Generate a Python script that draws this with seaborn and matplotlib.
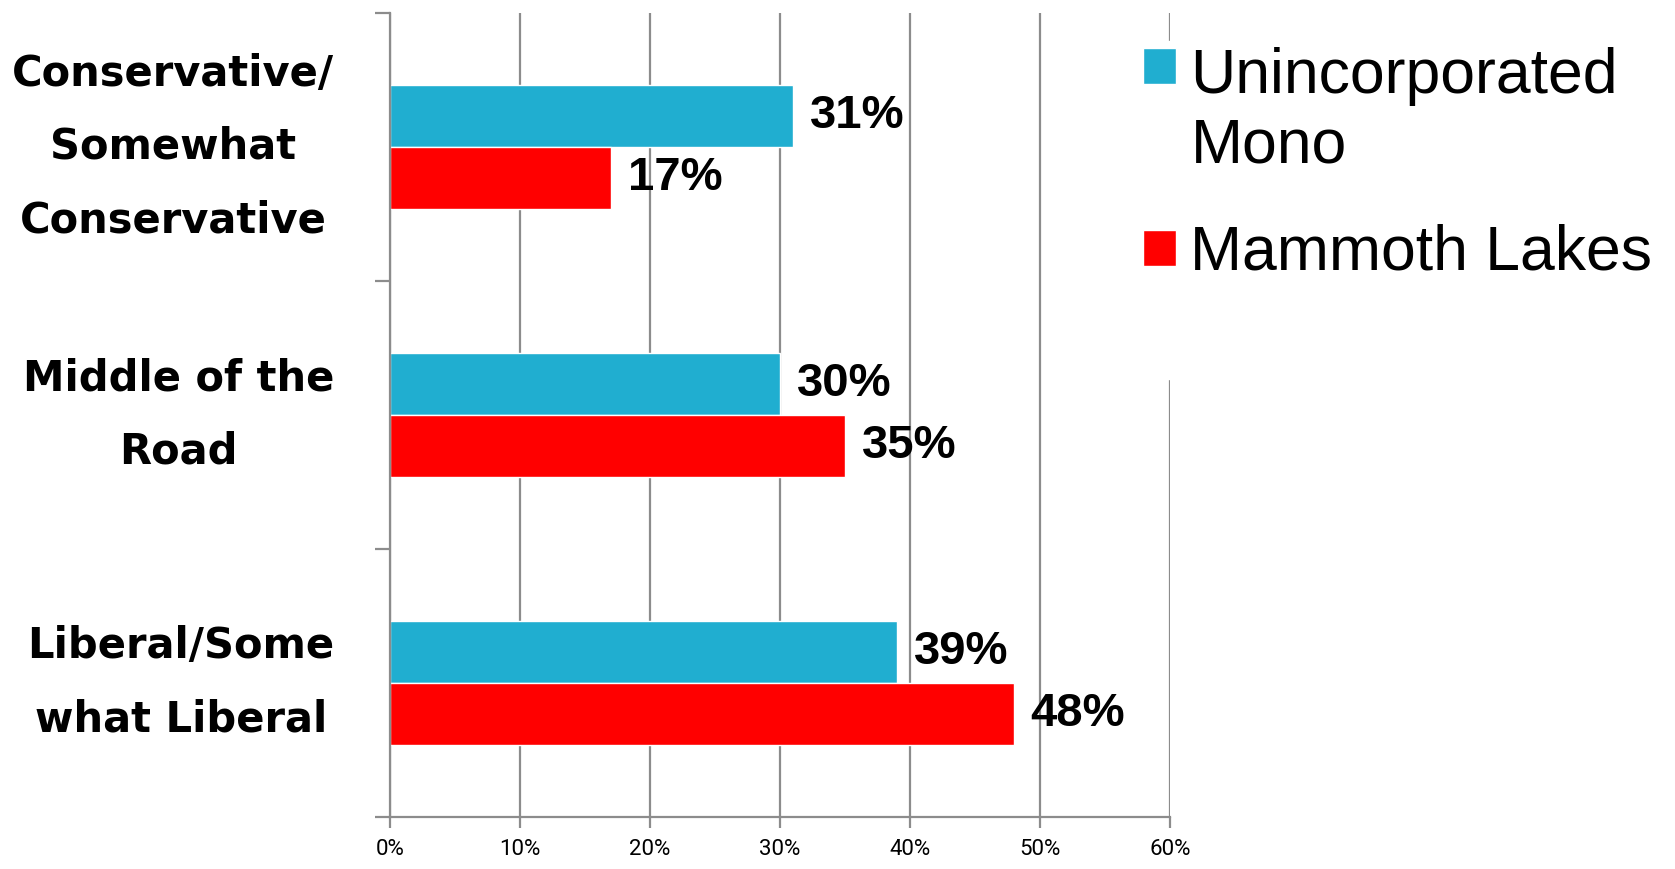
import seaborn as sns
import pandas as pd
import numpy as np
import matplotlib
matplotlib.use("Agg")
import matplotlib.pyplot as plt
from matplotlib.patches import Rectangle
from matplotlib.legend_handler import HandlerPatch

# data
categories = ["Conservative/\nSomewhat\nConservative", "Middle of the\nRoad", "Liberal/Some\nwhat Liberal"]
series = ["Unincorporated\nMono", "Mammoth Lakes"]
unincorporated = [31, 30, 39]
mammoth = [17, 35, 48]
xticks = [0, 10, 20, 30, 40, 50, 60]
colors = ["#20AED0", "#FF0000"]

df = pd.DataFrame({
    "category": categories * 2,
    "series": [series[0]] * 3 + [series[1]] * 3,
    "value": unincorporated + mammoth,
})

sns.set_style("white")
plt.rcParams["font.family"] = ["DejaVu Sans"]
plt.rcParams["text.color"] = "black"

fig = plt.figure(figsize=(16.75, 8.69), dpi=100)
ax = fig.add_axes([0.2328, 0.0598, 0.4657, 0.9254])

sns.barplot(data=df, x="value", y="category", hue="series", order=categories,
            hue_order=series, palette=colors, orient="h", width=0.46,
            saturation=1, ax=ax)

ax.set_xlim(0, 60)
ax.set_ylim(2.5, -0.5)
ax.set_xlabel("")
ax.set_ylabel("")

# grid + spines
grey = "#8c8c8c"
ax.set_xticks(xticks)
ax.set_xticklabels([f"{v}%" for v in xticks], fontsize=16, color="black",
                   family=["Roboto", "DejaVu Sans"])
ax.xaxis.grid(True, color=grey, linewidth=1.6)
ax.set_axisbelow(True)
for s in ["top", "right"]:
    ax.spines[s].set_visible(False)
for s in ["left", "bottom"]:
    ax.spines[s].set_color(grey)
    ax.spines[s].set_linewidth(1.6)
ax.tick_params(axis="x", length=8, width=1.6, color=grey, direction="out",
               bottom=True, pad=8)

ax.set_yticks(np.arange(len(categories)))
ax.set_yticklabels(categories, fontsize=30, fontweight="bold", color="black")
for t in ax.get_yticklabels():
    t.set_multialignment("center")
    t.set_verticalalignment("center")
    t.set_linespacing(1.95)
ax.tick_params(axis="y", which="major", length=0, pad=40, left=True)
ax.set_yticks(np.arange(-0.5, len(categories)), minor=True)
ax.tick_params(axis="y", which="minor", length=11, width=1.6, color=grey,
               direction="out", left=True)

# value labels
for cont in ax.containers:
    ax.bar_label(cont, labels=[f"{v:.0f}%" for v in cont.datavalues],
                 padding=12, fontsize=34, fontweight="bold", color="black",
                 family=["Liberation Sans", "DejaVu Sans"])

# legend
leg_size = 45
leg_lsp = 1.21


def square(legend, orig_handle, xdescent, ydescent, width, height, fontsize):
    # put the square next to the first line of a multi-line label
    n = orig_handle.get_label().count("\n")
    shift = n * 0.98 * fontsize * leg_lsp
    return Rectangle((-xdescent, -ydescent + shift), width, height)


handles, labels = ax.get_legend_handles_labels()
ax.get_legend().remove()
filler = Rectangle((0, 0), 1, 1, alpha=0, label=" ")
handles = list(handles) + [filler]
labels = list(labels) + [" "]
leg = fig.legend(handles, labels, loc="upper left", bbox_to_anchor=(0.660, 0.9885),
                 prop={"family": ["Liberation Sans", "DejaVu Sans"], "size": leg_size},
                 handlelength=0.52, handleheight=0.52, handletextpad=0.24,
                 labelspacing=0.78, borderpad=0.1, frameon=True, fancybox=False,
                 facecolor="white", edgecolor="white", framealpha=1,
                 handler_map={h: HandlerPatch(patch_func=square) for h in handles[:2]})
for t in leg.get_texts():
    t.set_linespacing(leg_lsp)
    t.set_color("black")
leg.get_texts()[-1].set_fontsize(4)
try:
    for col in leg._legend_handle_box.get_children():
        for row in col.get_children():
            row.get_children()[1].set_multilinebaseline(False)
except Exception:
    pass

fig.savefig("out.png", dpi=100)
